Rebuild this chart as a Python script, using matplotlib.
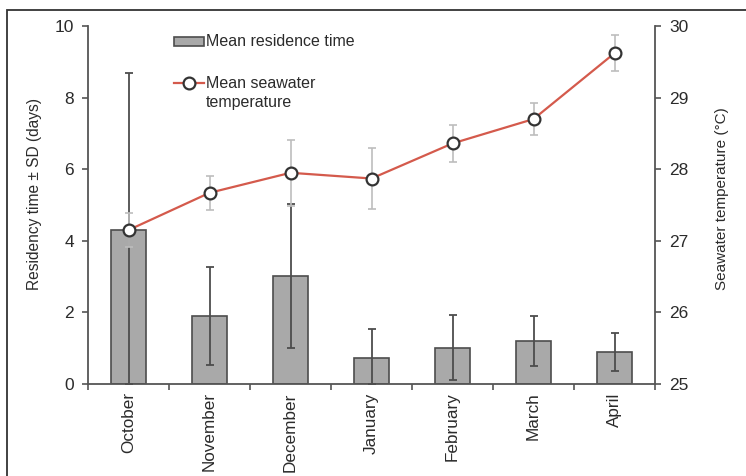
import matplotlib
matplotlib.use("Agg")
import matplotlib.pyplot as plt
from matplotlib.patches import Rectangle
from matplotlib.lines import Line2D

plt.rcParams['font.family'] = ['Liberation Sans', 'DejaVu Sans']

months = ["October", "November", "December", "January", "February", "March", "April"]
residence_mean = [4.3, 1.9, 3.02, 0.73, 1.01, 1.2, 0.9]
residence_sd = [4.4, 1.37, 2.02, 0.8, 0.91, 0.71, 0.53]
temp_mean = [27.15, 27.67, 27.95, 27.87, 28.36, 28.70, 29.62]
temp_sd = [0.24, 0.24, 0.46, 0.43, 0.26, 0.22, 0.25]

W, H = 746, 476
fig = plt.figure(figsize=(W / 100, H / 100), dpi=100)

def fx(x):
    return x / W

def fy(y):
    return 1 - y / H

text_color = "#2b2b2b"
spine_color = "#555555"

# outer frame: left and top edges visible
fig.patches.append(Rectangle((fx(7), -0.5), 1.2, fy(9.5) + 0.5,
                             transform=fig.transFigure, fill=False,
                             edgecolor="#333333", linewidth=1.3, zorder=0))

ax = fig.add_axes([fx(88), fy(384), fx(655) - fx(88), fy(26) - fy(384)])
x = list(range(len(months)))

lower = [min(s, m) for m, s in zip(residence_mean, residence_sd)]
ax.bar(x, residence_mean, width=0.42, color="#a9a9a9", edgecolor="#4d4d4d",
       linewidth=1.2, zorder=2)
ax.errorbar(x, residence_mean, yerr=[lower, residence_sd], fmt="none",
            ecolor="#4d4d4d", elinewidth=1.3, capsize=3, capthick=1.3, zorder=3)

ax.set_xlim(-0.5, len(months) - 0.5)
ax.set_ylim(0, 10)
ax.set_yticks([0, 2, 4, 6, 8, 10])
ax.set_xticks([i - 0.5 for i in range(len(months) + 1)])
ax.set_xticklabels([])
ax.set_xticks(x, minor=True)
ax.set_xticklabels(months, minor=True, rotation=90, fontsize=12.3, color=text_color)
ax.tick_params(axis="x", which="minor", length=0, pad=6)
ax.tick_params(axis="x", which="major", length=4, width=1.2, direction="out", color=spine_color)
ax.tick_params(axis="y", length=4, width=1.2, direction="out", color=spine_color,
               labelsize=12.5, pad=6, labelcolor=text_color)
for side in ("top", "right"):
    ax.spines[side].set_visible(False)
for side in ("left", "bottom"):
    ax.spines[side].set_color(spine_color)
    ax.spines[side].set_linewidth(1.3)
ax.set_ylabel("Residency time ± SD (days)", fontsize=11.2, color=text_color)
ax.yaxis.set_label_coords(-0.082, 0.532)

ax2 = ax.twinx()
ax2.errorbar(x, temp_mean, yerr=temp_sd, fmt="none", ecolor="#bdbdbd",
             elinewidth=1.2, capsize=3, capthick=1.2, zorder=2)
ax2.plot(x, temp_mean, color="#d45a4c", linewidth=1.6, marker="o",
         markersize=8.5, markerfacecolor="white", markeredgecolor="#333333",
         markeredgewidth=1.6, zorder=3)
ax2.set_ylim(25, 30)
ax2.set_yticks([25, 26, 27, 28, 29, 30])
ax2.tick_params(axis="y", length=4, width=1.2, direction="out", color=spine_color,
                labelsize=12.5, pad=6, labelcolor=text_color)
for side in ("top", "left", "bottom"):
    ax2.spines[side].set_visible(False)
ax2.spines["right"].set_color(spine_color)
ax2.spines["right"].set_linewidth(1.3)
ax2.set_ylabel("Seawater temperature (°C)", fontsize=11, color=text_color)
ax2.yaxis.set_label_coords(1.106, 0.518)

# legend drawn by hand so the marker sits on the first text line
fig.patches.append(Rectangle((fx(174), fy(46)), fx(204) - fx(174), fy(37.5) - fy(46),
                             transform=fig.transFigure, facecolor="#a9a9a9",
                             edgecolor="#4d4d4d", linewidth=1.2))
fig.text(fx(206), fy(41.5), "Mean residence time", fontsize=11.5, va="center", ha="left",
         color=text_color)
fig.lines.append(Line2D([fx(174), fx(204)], [fy(83), fy(83)], transform=fig.transFigure,
                        color="#d45a4c", linewidth=1.6))
fig.lines.append(Line2D([fx(189)], [fy(83)], transform=fig.transFigure, marker="o",
                        markersize=8.5, markerfacecolor="white",
                        markeredgecolor="#333333", markeredgewidth=1.6))
fig.text(fx(206), fy(83), "Mean seawater", fontsize=11.5, va="center", ha="left",
         color=text_color)
fig.text(fx(206), fy(102), "temperature", fontsize=11.5, va="center", ha="left",
         color=text_color)

fig.savefig("out.png", dpi=100)
